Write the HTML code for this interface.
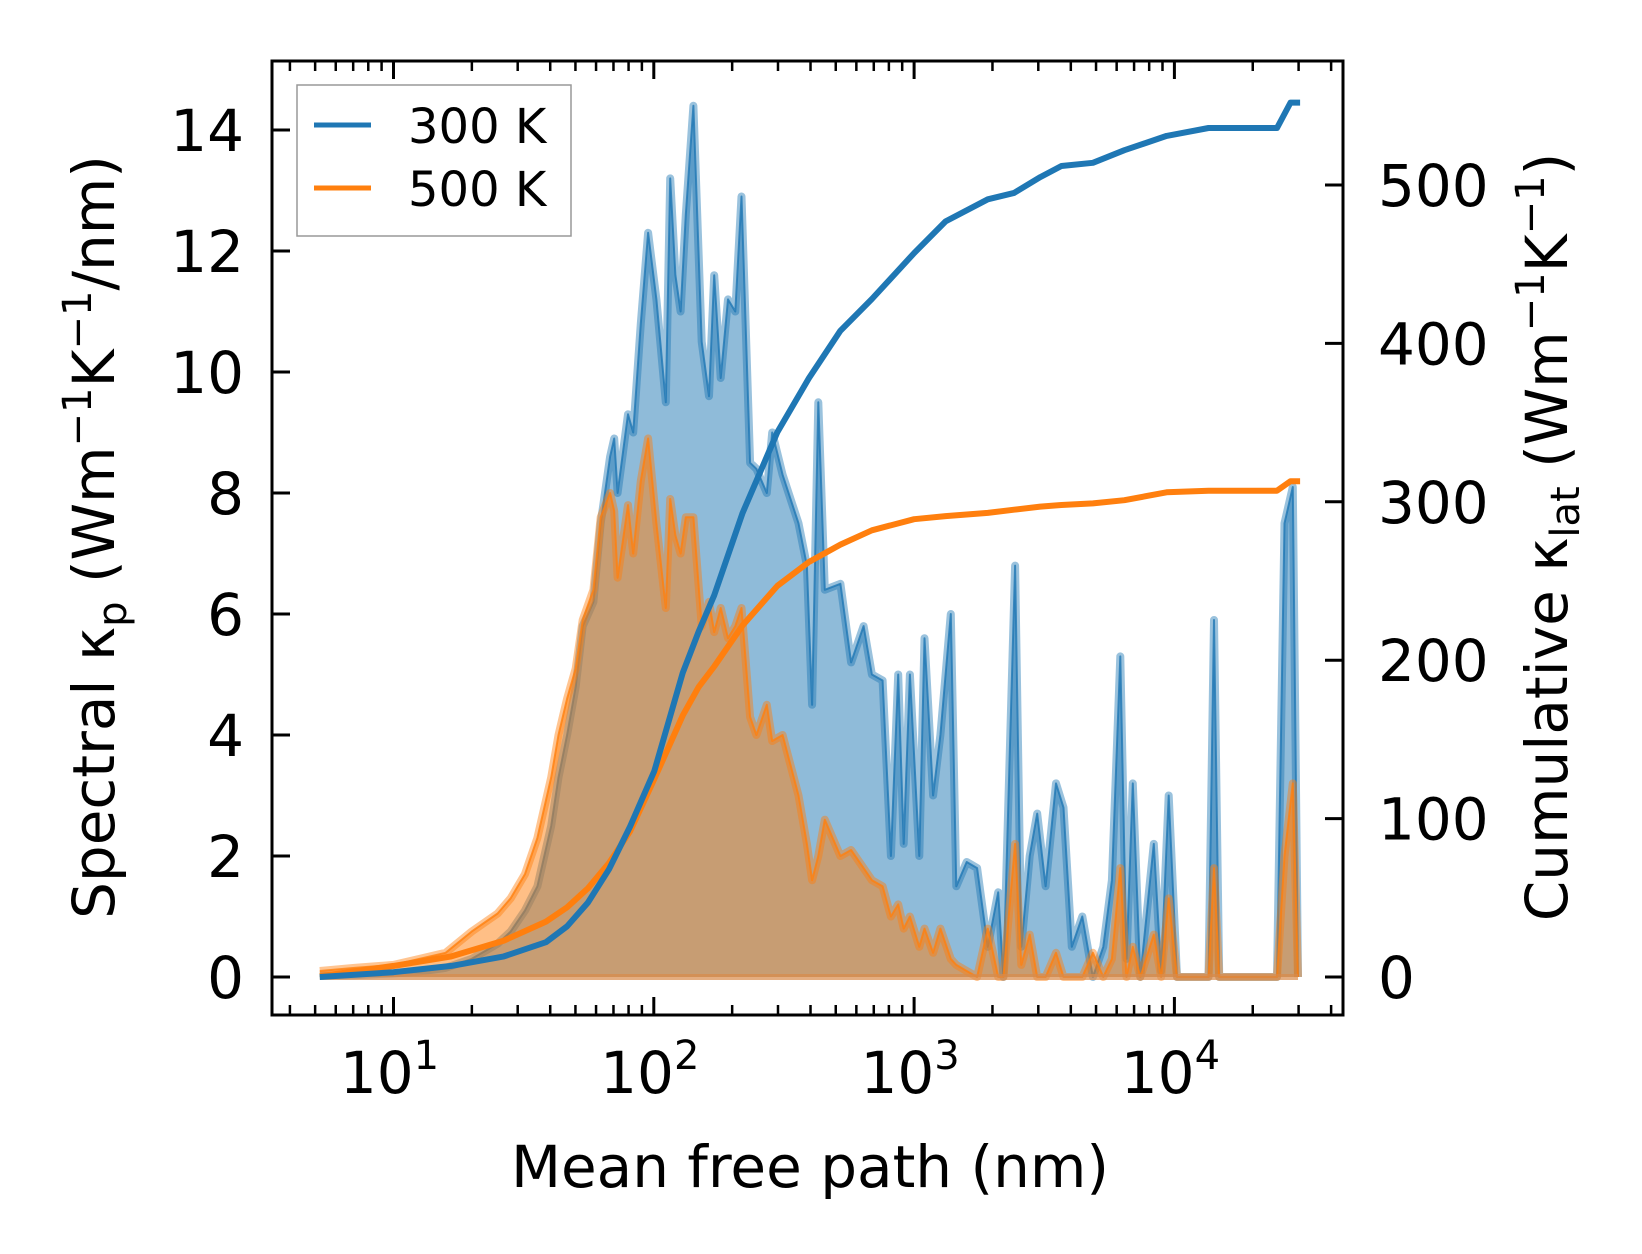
<!DOCTYPE html>
<html><head><meta charset="utf-8">
<style>
html,body{margin:0;padding:0;background:#fff;}
svg{display:block;font-family:"DejaVu Sans","Liberation Sans",sans-serif;}
</style></head>
<body>
<svg id="chart" width="1642" height="1254" viewBox="0 0 1642 1254" xmlns="http://www.w3.org/2000/svg">
<g id="fills"></g>
<g id="lines"></g>
<g id="ticks"></g>
<rect x="272" y="61" width="1071" height="954" fill="none" stroke="#000" stroke-width="3"/>
<g>
<rect x="297" y="85" width="274" height="151" fill="#fff" fill-opacity="0.8" stroke="#999" stroke-width="1.5"/>
<line x1="314" y1="125" x2="371" y2="125" stroke="#1f77b4" stroke-width="5"/>
<text x="408" y="143" font-size="48">300 K</text>
<line x1="314" y1="188" x2="371" y2="188" stroke="#ff7f0e" stroke-width="5"/>
<text x="408" y="206" font-size="48">500 K</text>
</g>
<text x="810" y="1187" font-size="58" text-anchor="middle">Mean free path (nm)</text>
<text transform="translate(114,537) rotate(-90)" font-size="58" text-anchor="middle">Spectral κ<tspan font-size="40" dy="12">p</tspan><tspan dy="-12"> (Wm</tspan><tspan font-size="40" dy="-23">−1</tspan><tspan dy="23">K</tspan><tspan font-size="40" dy="-23">−1</tspan><tspan dy="23">/nm)</tspan></text>
<text transform="translate(1567,537) rotate(-90)" font-size="58" text-anchor="middle">Cumulative κ<tspan font-size="40" dy="12">lat</tspan><tspan dy="-12"> (Wm</tspan><tspan font-size="40" dy="-23">−1</tspan><tspan dy="23">K</tspan><tspan font-size="40" dy="-23">−1</tspan><tspan dy="23">)</tspan></text>
</svg>
<script>
// log10 of mean free path (nm) for spectral bins
const specLogMfp = [0.717,0.85,1.0,1.10,1.20,1.30,1.40,1.45,1.505,1.553,1.606,1.634,1.667,1.70,1.727,1.768,1.796,1.832,1.848,1.861,1.901,1.921,1.95,1.978,2.01,2.046,2.063,2.083,2.103,2.123,2.152,2.184,2.212,2.232,2.257,2.285,2.313,2.337,2.37,2.394,2.434,2.455,2.495,2.556,2.588,2.608,2.632,2.657,2.717,2.758,2.806,2.838,2.879,2.911,2.939,2.96,2.984,3.02,3.04,3.073,3.101,3.141,3.162,3.202,3.242,3.283,3.323,3.343,3.388,3.412,3.444,3.473,3.505,3.545,3.574,3.606,3.646,3.687,3.727,3.76,3.792,3.816,3.84,3.869,3.921,3.949,3.978,4.01,4.131,4.152,4.172,4.394,4.423,4.455,4.475];
const spec300 = [0.02,0.03,0.06,0.09,0.15,0.3,0.55,0.75,1.1,1.5,2.5,3.3,4.0,4.8,5.8,6.2,7.5,8.6,8.9,8.0,9.3,9.0,10.8,12.3,11.2,9.5,13.2,11.6,11.0,12.6,14.4,10.5,9.6,11.6,9.9,11.2,11.0,12.9,8.5,8.4,8.0,9.0,8.3,7.5,6.8,4.5,9.5,6.4,6.5,5.2,5.8,5.0,4.9,2.0,5.0,2.2,5.0,2.0,5.6,3.0,4.0,6.0,1.5,1.9,1.8,0.5,1.4,0.0,6.8,0.5,2.0,2.7,1.5,3.2,2.8,0.5,1.0,0.0,0.5,1.6,5.3,0.3,3.2,0.0,2.2,0.1,3.0,0.0,0.0,5.9,0.0,0.0,7.5,8.1,0.0];
const spec500 = [0.1,0.15,0.2,0.3,0.4,0.75,1.05,1.3,1.7,2.3,3.3,4.0,4.6,5.1,5.9,6.4,7.6,8.0,7.7,6.6,7.8,7.0,8.2,8.9,7.5,6.1,7.9,7.3,7.0,7.6,7.6,5.8,6.2,5.7,6.1,5.6,5.8,6.1,4.3,4.0,4.5,3.9,4.0,3.0,2.2,1.6,2.0,2.6,2.0,2.1,1.8,1.6,1.5,1.0,1.2,0.8,1.0,0.5,0.8,0.4,0.8,0.3,0.2,0.1,0.0,0.8,0.0,0.0,2.2,0.2,0.7,0.0,0.0,0.4,0.0,0.0,0.0,0.4,0.0,0.3,1.8,0.0,0.5,0.0,0.7,0.0,1.3,0.0,0.0,1.8,0.0,0.0,2.0,3.2,0.0];
// cumulative kappa
const cumLogMfp = [0.717,1.0,1.222,1.424,1.586,1.667,1.747,1.828,1.909,2.002,2.111,2.172,2.232,2.341,2.475,2.596,2.717,2.838,3.0,3.121,3.283,3.384,3.485,3.566,3.687,3.808,3.97,4.131,4.394,4.446,4.483];
const cum300 = [0,3,7,13,22,32,47,68,95,130,192,218,241,293,344,378,408,428,457,477,491,495,505,512,514,522,531,536,536,552,552];
const cum500 = [0.5,7,13,23,35,44,56,72,92,125,165,183,196,222,247,262,273,282,289,291,293,295,297,298,299,301,306,307,307,313,313];
const leftTicks = [0,2,4,6,8,10,12,14];
const rightTicks = [0,100,200,300,400,500];
const xMajorExp = [1,2,3,4];

const X0=393.5, DEC=260.3, LEFT=272, RIGHT=1343, TOP=61, BOT=1015;
const xL = L => X0 + (L-1)*DEC;
const yL = v => 977 - v*60.5;
const yR = v => 977 - v*1.584;
const NS="http://www.w3.org/2000/svg";
function mk(tag, attrs, parent){const e=document.createElementNS(NS,tag);for(const k in attrs)e.setAttribute(k,attrs[k]);parent.appendChild(e);return e;}
const fills=document.getElementById('fills'), lines=document.getElementById('lines'), ticks=document.getElementById('ticks');

function spectral(vals, color, name){
  let pts = specLogMfp.map((L,i)=>xL(L).toFixed(1)+','+yL(vals[i]).toFixed(1));
  const area = mk('polygon',{points: xL(specLogMfp[0])+','+yL(0)+' '+pts.join(' ')+' '+xL(specLogMfp[specLogMfp.length-1])+','+yL(0), fill:color, 'fill-opacity':0.5}, fills);
  
  
  const thick = mk('polyline',{points:pts.join(' '), fill:'none', stroke:color, 'stroke-opacity':0.45, 'stroke-width':8, 'stroke-linejoin':'round'}, fills);
  
  
  const thin = mk('polyline',{points:pts.join(' '), fill:'none', stroke:color, 'stroke-opacity':0.8, 'stroke-width':2, 'stroke-linejoin':'round'}, fills);
  
  
}
spectral(spec300,'#1f77b4','spectral-300k');
spectral(spec500,'#ff7f0e','spectral-500k');
const base = mk('line',{x1:xL(specLogMfp[0]),x2:xL(specLogMfp[specLogMfp.length-1]),y1:yL(0),y2:yL(0),stroke:'#d98a4a','stroke-width':6,'stroke-opacity':0.7},fills);



function cum(vals,color,name){
  const pts = cumLogMfp.map((L,i)=>xL(L).toFixed(1)+','+yR(vals[i]).toFixed(1));
  const l = mk('polyline',{points:pts.join(' '),fill:'none',stroke:color,'stroke-width':6,'stroke-linejoin':'round'},lines);
  
  
}
cum(cum500,'#ff7f0e','cumulative-500k');
cum(cum300,'#1f77b4','cumulative-300k');

leftTicks.forEach(v=>{
  const y=yL(v);
  const t=mk('line',{x1:LEFT,x2:LEFT+18,y1:y,y2:y,stroke:'#000','stroke-width':3},ticks);
  
  
  const tx=mk('text',{x:244,y:y+21,'font-size':58,'text-anchor':'end'},ticks);
  tx.textContent=v;
  
  
});
rightTicks.forEach(v=>{
  const y=yR(v);
  const t=mk('line',{x1:RIGHT-18,x2:RIGHT,y1:y,y2:y,stroke:'#000','stroke-width':3},ticks);
  
  
  const tx=mk('text',{x:1378,y:y+21,'font-size':58},ticks);
  tx.textContent=v;
  
  
});
for(let e=0;e<=4;e++){
  for(let m=1;m<=9;m++){
    const L=e+Math.log10(m), x=xL(L);
    if(x<LEFT+2||x>RIGHT-2) continue;
    const len = m===1?18:10;
    [[BOT,BOT-len],[TOP,TOP+len]].forEach(([a,b])=>{
      const t=mk('line',{x1:x,x2:x,y1:a,y2:b,stroke:'#000','stroke-width':m===1?3:2.5},ticks);
      
      
    });
  }
}
xMajorExp.forEach(e=>{
  const tx=mk('text',{x:xL(e)-4,y:1093,'font-size':58,'text-anchor':'middle'},ticks);
  
  
  tx.appendChild(document.createTextNode('10'));
  const s=mk('tspan',{'font-size':40,dy:-24},tx);
  s.textContent=e;
});
</script>
</body></html>
